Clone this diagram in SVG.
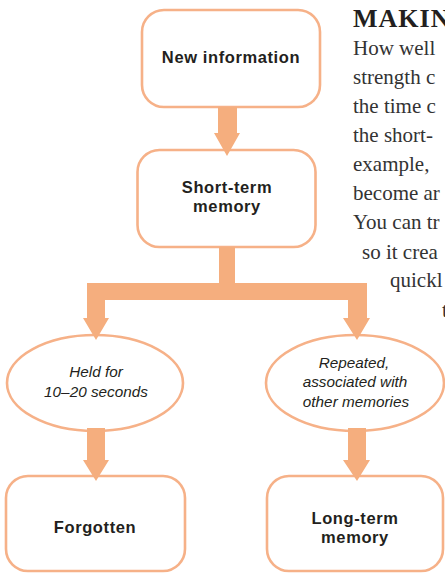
<svg xmlns="http://www.w3.org/2000/svg" width="445" height="574" viewBox="0 0 445 574">
<defs>
<style>
.box{fill:#fff;stroke:#F6B188;stroke-width:2.6}
.arr{fill:#F5AE7E;stroke:none}
.lbl{font-family:"Liberation Sans",Arial,sans-serif;font-weight:bold;font-size:16.5px;fill:#231F20;text-anchor:middle;letter-spacing:0.6px}
.it{font-family:"Liberation Sans",Arial,sans-serif;font-style:italic;font-size:15.3px;fill:#231F20;text-anchor:middle}
.body{font-family:"Liberation Serif","Times New Roman",serif;font-size:21px;fill:#333}
.head{font-family:"Liberation Serif","Times New Roman",serif;font-size:26px;font-weight:bold;fill:#231F20;letter-spacing:1px}
</style>
</defs>
<rect width="445" height="574" fill="#fff"/>
<g id="sidetext">
<text class="head" x="353" y="27">MAKIN</text>
<text class="body" x="353" y="55">How well</text>
<text class="body" x="353" y="84">strength c</text>
<text class="body" x="353" y="113">the time c</text>
<text class="body" x="353" y="142">the short-</text>
<text class="body" x="353" y="171">example,</text>
<text class="body" x="353" y="200">become ar</text>
<text class="body" x="353" y="229">You can tr</text>
<text class="body" x="362" y="259">so it crea</text>
<text class="body" x="390" y="287">quickl</text>
<text class="body" x="442" y="317">t</text>
</g>
<g id="n1"><rect class="box" x="142" y="10" width="178" height="97" rx="22"/><text class="lbl" x="231" y="63">New information</text></g>
<g id="n2"><rect class="box" x="137.5" y="150" width="178" height="97" rx="22"/><text class="lbl" x="227" y="193">Short-term</text><text class="lbl" x="227" y="212">memory</text></g>
<g id="n3"><ellipse class="box" cx="95" cy="383" rx="88" ry="48"/><text class="it" x="96" y="377">Held for</text><text class="it" x="96" y="397">10–20 seconds</text></g>
<g id="n4"><ellipse class="box" cx="355" cy="383" rx="89" ry="48"/><text class="it" x="354" y="368">Repeated,</text><text class="it" x="355" y="387">associated with</text><text class="it" x="356" y="407">other memories</text></g>
<g id="n5"><rect class="box" x="6" y="476" width="179" height="95" rx="22"/><text class="lbl" x="95" y="533">Forgotten</text></g>
<g id="n6"><rect class="box" x="267" y="476" width="176" height="95" rx="22"/><text class="lbl" x="355" y="524">Long-term</text><text class="lbl" x="355" y="543">memory</text></g>
<g id="connectors">
<polygon class="arr" points="218,107 237,107 237,133 240,133 227,156 214,133 218,133"/>
<polygon class="arr" points="219,247 235,247 235,283 367,283 367,318 370,318 357,340 343,318 348,318 348,300 105,300 105,318 109,318 96,340 83,318 87,318 87,283 219,283"/>
<polygon class="arr" points="87,428 105,428 105,460 109,460 96,481 83,460 87,460"/>
<polygon class="arr" points="348,428 366,428 366,460 370,460 357,481 343,460 348,460"/>
</g>
</svg>
